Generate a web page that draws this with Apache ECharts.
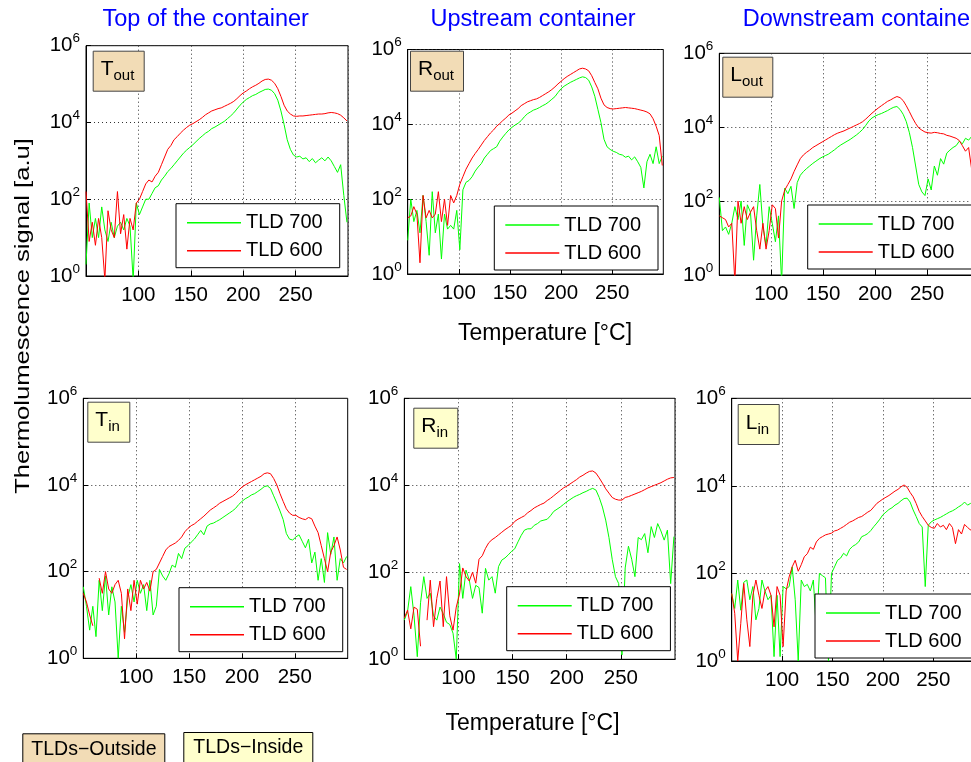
<!DOCTYPE html>
<html>
<head>
<meta charset="utf-8">
<title>TLD glow curves</title>
<script src="https://cdn.jsdelivr.net/npm/echarts/dist/echarts.min.js"></script>
<style>
  html, body { margin: 0; padding: 0; background: #fff; }
  #chart { width: 971px; height: 762px; }
</style>
</head>
<body>
<div id="chart"></div>
<script>
// temperature samples [degC]
const temps = [50,53,56,59,62,65,68,71,74,77,80,83,86,89,92,95,98,101,104,107,
  110,113,116,119,122,125,128,131,134,137,140,143,146,149,152,155,158,161,164,167,
  170,173,176,179,182,185,188,191,194,197,200,203,206,209,212,215,218,221,224,227,
  230,233,236,239,242,245,248,251,254,257,260,263,266,269,272,275,278,281,284,287,
  290,293,296,299];

// signal in decades (log10 of a.u.)
const tOut700 = [0.3,1.9,1.0,1.5,1.0,1.8,1.2,0.9,1.4,1.0, 1.3,1.4,1.2,1.5,1.3,-0.1,1.9,1.6,1.8,2.0,
  2.0,2.15,2.3,2.35,2.5,2.6,2.72,2.8,2.9,3.0, 3.1,3.2,3.28,3.35,3.42,3.5,3.58,3.65,3.72,3.77,
  3.84,3.88,3.93,3.98,4.03,4.1,4.17,4.25,4.35,4.45, 4.53,4.6,4.65,4.7,4.73,4.78,4.82,4.86,4.87,4.84,
  4.75,4.58,4.3,3.95,3.55,3.3,3.15,3.1,3.12,3.05, 3.08,2.98,3.06,2.95,3.02,3.08,3.0,3.1,3.0,2.85,
  2.7,2.9,2.1,1.4];
const tOut600 = [2.2,0.9,1.4,0.8,1.5,1.0,-0.1,1.7,1.2,1.0, 2.2,1.1,1.6,0.7,1.5,1.2,1.9,2.0,2.2,2.4,
  2.5,2.45,2.6,2.7,2.9,3.1,3.3,3.4,3.55,3.63, 3.72,3.8,3.87,3.93,3.97,4.02,4.07,4.13,4.2,4.25,
  4.3,4.33,4.36,4.38,4.42,4.46,4.5,4.55,4.62,4.7, 4.77,4.82,4.88,4.93,4.97,5.02,5.08,5.12,5.13,5.1,
  5.02,4.88,4.68,4.45,4.3,4.22,4.17,4.16,4.17,4.17, 4.18,4.19,4.2,4.21,4.22,4.22,4.23,4.25,4.26,4.25,
  4.23,4.19,4.12,4.04];

const rOut700 = [0.9,2.0,1.4,1.7,1.1,2.1,1.4,0.5,2.2,1.1, 1.6,0.4,1.6,1.2,1.3,1.2,1.7,0.65,2.25,2.45,
  2.5,2.6,2.75,2.86,2.95,3.1,3.2,3.3,3.35,3.4, 3.55,3.66,3.76,3.85,3.92,3.98,4.03,4.1,4.2,4.28,
  4.33,4.38,4.41,4.45,4.5,4.54,4.6,4.67,4.74,4.85, 4.95,5.02,5.07,5.12,5.16,5.2,5.24,5.27,5.25,5.18,
  5.0,4.75,4.4,4.05,3.6,3.4,3.33,3.28,3.25,3.2, 3.18,3.12,3.15,3.05,3.13,3.0,2.85,2.3,3.0,3.2,
  2.95,3.4,2.95,3.15];
const rOut600 = [1.5,1.55,1.8,1.6,0.3,2.1,1.5,1.7,1.5,1.6, 2.2,1.4,2.0,1.3,2.1,1.9,2.1,2.4,2.6,2.8,
  2.95,3.1,3.22,3.33,3.45,3.57,3.67,3.77,3.85,3.95, 4.02,4.1,4.17,4.25,4.3,4.36,4.42,4.5,4.55,4.6,
  4.63,4.66,4.68,4.72,4.77,4.82,4.87,4.93,5.0,5.08, 5.15,5.22,5.28,5.33,5.38,5.43,5.48,5.5,5.48,5.43,
  5.3,5.12,4.95,4.7,4.52,4.45,4.42,4.41,4.42,4.43, 4.44,4.45,4.44,4.43,4.42,4.4,4.38,4.36,4.33,4.28,
  4.15,3.95,3.7,2.9];

const lOut700 = [2.1,1.2,1.3,1.1,1.4,1.85,1.5,2.0,0.8,1.9, 1.7,0.4,1.6,2.45,1.3,0.8,1.85,1.4,0.9,1.6,
  -0.2,2.35,2.2,2.4,1.8,2.5,2.7,2.8,2.88,2.95, 3.02,3.08,3.14,3.19,3.23,3.27,3.33,3.39,3.46,3.52,
  3.57,3.62,3.67,3.73,3.79,3.86,3.94,4.05,4.17,4.25, 4.3,4.34,4.37,4.41,4.45,4.5,4.54,4.56,4.48,4.35,
  4.15,3.85,3.45,2.95,2.45,2.25,2.15,2.6,2.3,2.95, 2.7,3.15,3.0,3.3,3.38,3.45,3.5,3.62,3.55,3.7,
  3.65,3.75,3.7,3.78];
const lOut600 = [1.6,1.55,1.5,1.3,1.4,-0.2,2.0,1.4,1.85,1.5, 1.7,1.85,1.2,0.7,1.4,0.7,1.2,1.9,1.8,1.0,
  2.0,2.3,2.45,2.6,2.8,2.98,3.15,3.25,3.32,3.38, 3.45,3.5,3.55,3.6,3.65,3.7,3.75,3.8,3.84,3.87,
  3.9,3.94,3.98,4.02,4.06,4.1,4.15,4.22,4.3,4.38, 4.45,4.52,4.58,4.64,4.7,4.74,4.79,4.83,4.8,4.72,
  4.58,4.42,4.25,4.1,3.98,3.92,3.87,3.85,3.84,3.86, 3.85,3.83,3.82,3.78,3.76,3.73,3.7,3.64,3.5,3.35,
  3.45,2.85,2.5,2.2];

const tIn700 = [1.65,1.2,0.65,1.2,0.5,1.8,1.1,1.9,1.0,1.65, 1.3,0.0,1.2,0.6,1.4,1.7,1.3,1.8,1.5,1.7,
  1.1,1.8,1.0,1.2,2.05,1.9,1.8,1.95,2.15,2.1, 2.42,2.3,2.54,2.6,2.68,2.75,2.85,2.95,2.85,3.05,
  3.1,3.12,3.16,3.2,3.25,3.3,3.35,3.4,3.46,3.55, 3.62,3.68,3.72,3.77,3.8,3.85,3.9,3.96,3.98,3.92,
  3.75,3.58,3.4,3.2,2.88,2.75,2.73,2.8,2.85,2.7, 2.55,2.75,2.2,2.45,1.8,2.3,1.75,2.9,2.4,2.8,
  1.8,2.3,2.2,2.35];
const tIn600 = [1.5,1.3,1.0,0.75,null,1.85,1.5,2.0,1.6,1.5, 1.7,1.8,1.5,0.45,1.6,1.1,1.8,1.25,1.8,1.6,
  1.75,1.55,2.0,2.05,2.2,2.35,2.5,2.58,2.62,2.66, 2.72,2.8,2.92,3.0,3.06,3.1,3.16,3.22,3.28,3.35,
  3.42,3.47,3.52,3.58,3.62,3.66,3.7,3.74,3.8,3.88, 3.95,4.0,4.04,4.08,4.12,4.16,4.2,4.26,4.28,4.26,
  4.15,4.0,3.8,3.62,3.45,3.35,3.3,3.3,3.25,3.22, 3.2,3.25,3.22,3.05,2.9,2.6,2.3,2.0,2.45,2.6,
  2.8,2.5,2.1,2.05];

const rIn700 = [0.9,1.1,1.67,1.0,0.06,1.3,1.9,1.4,1.52,1.0, 0.9,1.2,1.05,0.85,0.8,0.6,0.0,2.2,1.4,2.05,
  1.82,1.4,1.7,1.65,1.06,2.09,1.82,1.9,1.52,2.13, 2.28,2.33,2.4,2.48,2.54,2.7,2.85,2.97,3.0,3.0,
  3.08,3.12,3.18,3.2,3.22,3.3,3.4,3.45,3.5,3.56, 3.62,3.67,3.72,3.76,3.79,3.83,3.86,3.9,3.93,3.89,
  3.72,3.5,3.2,2.8,2.3,1.9,1.74,0.1,2.1,2.6, 2.3,1.9,2.8,2.75,2.89,2.45,3.05,2.8,3.12,2.95,
  2.74,2.97,1.74,2.82];
const rIn600 = [0.95,1.13,0.7,1.2,1.15,0.3,null,0.9,1.82,0.75, 1.4,1.8,0.75,1.9,1.0,0.67,1.2,1.5,2.1,1.9,
  1.8,2.0,1.75,2.3,2.38,2.55,2.68,2.75,2.8,2.86, 2.92,2.98,3.03,3.08,3.17,3.22,3.26,3.3,3.37,3.42,
  3.48,3.52,3.56,3.59,3.65,3.7,3.76,3.82,3.88,3.94, 3.98,4.03,4.08,4.13,4.19,4.23,4.28,4.32,4.33,4.28,
  4.17,4.05,3.92,3.82,3.72,3.68,3.66,3.66,3.72,3.74, 3.77,3.8,3.83,3.86,3.9,3.94,3.97,4.0,4.03,4.06,
  4.1,4.14,4.17,4.18];

const lIn700 = [1.54,1.2,1.85,1.16,1.8,1.85,1.4,1.7,0.94,1.2, 1.85,1.6,1.4,1.5,0.1,1.5,0.1,1.7,1.65,1.7,
  2.15,1.4,0.0,1.85,1.7,1.75,1.6,1.85,0.7,2.0, 1.95,1.9,0.0,2.0,2.15,2.3,2.35,2.46,2.4,2.55,
  2.62,2.66,2.72,2.84,2.87,2.91,2.98,3.07,3.15,3.24, 3.34,3.4,3.46,3.5,3.56,3.6,3.66,3.71,3.72,3.63,
  3.45,3.3,3.14,3.06,1.7,3.1,3.18,3.22,3.25,3.28, 3.32,3.36,3.4,3.43,3.47,3.52,3.56,3.63,3.56,3.6,
  3.62,3.65,3.6,3.62];
const lIn600 = [1.54,1.09,0.0,0.86,1.77,0.94,0.33,1.5,1.85,1.5, 1.2,1.6,1.7,1.5,0.78,1.7,1.5,0.33,1.6,1.92,
  2.15,2.3,2.05,2.2,2.38,2.45,2.6,2.55,2.72,2.8, 2.84,2.88,2.9,2.92,2.97,2.99,3.03,3.07,3.12,3.17,
  3.2,3.24,3.28,3.3,3.35,3.4,3.44,3.52,3.6,3.65, 3.7,3.74,3.78,3.83,3.88,3.92,3.98,4.02,3.97,3.85,
  3.75,3.6,3.42,3.3,3.2,3.1,3.05,3.03,3.14,3.06, 3.1,3.0,3.14,3.05,2.68,3.0,2.9,3.12,3.05,2.99,
  3.1,2.95,3.05,3.0];

const seriesNames = ['TLD 700', 'TLD 600'];
const columnTitles = ['Top of the container', 'Upstream container', 'Downstream container'];
const boxTags = [['T', 'out'], ['R', 'out'], ['L', 'out'], ['T', 'in'], ['R', 'in'], ['L', 'in']];
const panelData = [[tOut700, tOut600], [rOut700, rOut600], [lOut700, lOut600],
                   [tIn700, tIn600], [rIn700, rIn600], [lIn700, lIn600]];

// pixel layout of each panel: plot box, legend box, tag box
const panels = [
  { grid: [86, 45.7, 262, 230.3],     legend: [176, 203.7, 17],   tag: [92.7, 50.7] },
  { grid: [407.7, 49.5, 255.6, 224.5], legend: [494.3, 206, 17],  tag: [410, 50.7] },
  { grid: [719.3, 53.3, 259.7, 221.7], legend: [807.7, 205, 30],  tag: [722.3, 56.7] },
  { grid: [83.3, 398.3, 264.4, 260],  legend: [179, 587.7, 17],   tag: [87.3, 401.7] },
  { grid: [404.3, 398.3, 270.7, 261], legend: [506.7, 586.7, 17], tag: [413.3, 407.7] },
  { grid: [731.7, 398.3, 252, 262.7], legend: [815, 594, 30],     tag: [737.7, 404] }
];

const FONT = 'Liberation Sans, Arial, Helvetica, sans-serif';
const GREEN = '#00ff00';
const RED = '#ff0000';
const OUTSIDE_FILL = '#f2dcb6';
const INSIDE_FILL = '#ffffcc';

const grids = [], xAxes = [], yAxes = [], series = [], legends = [], titles = [];

panels.forEach((p, i) => {
  grids.push({
    left: p.grid[0], top: p.grid[1], width: p.grid[2], height: p.grid[3],
    show: true, borderColor: '#000', borderWidth: 1, backgroundColor: '#fff',
    containLabel: false, outerBoundsMode: 'none'
  });
  xAxes.push({
    type: 'value', gridIndex: i, min: 50, max: 300, interval: 50,
    axisLine: { show: true, onZero: false, lineStyle: { color: '#000', width: 1 } },
    axisTick: { show: true, inside: true, length: 5, lineStyle: { color: '#000' } },
    axisLabel: { show: true, showMinLabel: false, showMaxLabel: false, margin: 9,
      fontSize: 20.5, color: '#000', fontFamily: FONT },
    splitLine: { show: true, lineStyle: { color: '#333', type: [1, 3], width: 1 } }
  });
  yAxes.push({
    type: 'value', gridIndex: i, min: 0, max: 6, interval: 2,
    axisLine: { show: true, onZero: false, lineStyle: { color: '#000', width: 1 } },
    axisTick: { show: true, inside: true, length: 5, lineStyle: { color: '#000' } },
    axisLabel: {
      margin: 6, color: '#000', fontFamily: FONT,
      formatter: v => '{b|10}{s|' + v + '}',
      rich: {
        b: { fontSize: 20.5, lineHeight: 28, fontFamily: FONT, color: '#000' },
        s: { fontSize: 13.5, lineHeight: 13, verticalAlign: 'top', fontFamily: FONT, color: '#000' }
      }
    },
    splitLine: { show: true, lineStyle: { color: '#333', type: [1, 3], width: 1 } }
  });
  [GREEN, RED].forEach((c, k) => {
    series.push({
      name: seriesNames[k], type: 'line', xAxisIndex: i, yAxisIndex: i,
      data: temps.map((t, j) => [t, panelData[i][k][j] === null ? '-' : panelData[i][k][j]]),
      showSymbol: false, symbol: 'none', color: c,
      lineStyle: { color: c, width: 1 }, clip: true, animation: false
    });
  });
  legends.push({
    left: p.legend[0], top: p.legend[1], orient: 'vertical', data: seriesNames,
    icon: 'rect', itemWidth: 54, itemHeight: 1.5, itemGap: 8,
    padding: [9, p.legend[2], 7, 11],
    borderColor: '#000', borderWidth: 1, borderRadius: 0, backgroundColor: '#fff',
    selectedMode: false,
    textStyle: { fontSize: 20, color: '#000', fontFamily: FONT, lineHeight: 20 }
  });
  titles.push({
    left: p.tag[0], top: p.tag[1] - 3,
    text: '{m|' + boxTags[i][0] + '}{s|' + boxTags[i][1] + '}',
    padding: [8, 10, 8, 8],
    backgroundColor: i < 3 ? OUTSIDE_FILL : INSIDE_FILL,
    borderColor: '#444', borderWidth: 1,
    textStyle: {
      fontWeight: 'normal', fontFamily: FONT,
      rich: {
        m: { fontSize: 21, lineHeight: 28, color: '#000', fontFamily: FONT },
        s: { fontSize: 15, lineHeight: 12, verticalAlign: 'bottom', color: '#000', fontFamily: FONT }
      }
    }
  });
});

// TLDs-Outside / TLDs-Inside keys at the bottom
titles.push({
  left: 22.3, top: 733.3, text: 'TLDs\u2212Outside', padding: [6, 9, 12, 9],
  backgroundColor: OUTSIDE_FILL, borderColor: '#000', borderWidth: 1,
  textStyle: { fontSize: 19.5, fontWeight: 'normal', color: '#000', fontFamily: FONT }
});
titles.push({
  left: 183.3, top: 732, text: 'TLDs\u2212Inside', padding: [6, 10, 12, 10],
  backgroundColor: INSIDE_FILL, borderColor: '#000', borderWidth: 1,
  textStyle: { fontSize: 19.5, fontWeight: 'normal', color: '#000', fontFamily: FONT }
});

function label(text, x, y, opts) {
  return Object.assign({
    type: 'text', x: x, y: y, silent: true,
    style: Object.assign({
      text: text, fill: '#000', fontSize: 23, fontFamily: FONT,
      align: 'center', textAlign: 'center', verticalAlign: 'middle', textVerticalAlign: 'middle'
    }, opts.style || {})
  }, opts.el || {});
}

const graphics = [
  label(columnTitles[0], 205.7, 20, { style: { fill: '#0000ff', fontSize: 23.5 } }),
  label(columnTitles[1], 533, 20, { style: { fill: '#0000ff', fontSize: 23.5 } }),
  label(columnTitles[2], 742.7, 20, { style: { fill: '#0000ff', fontSize: 23.5, align: 'left', textAlign: 'left' } }),
  label('Temperature [\u00b0C]', 545, 334, {}),
  label('Temperature [\u00b0C]', 532.5, 724, {}),
  label('Thermolumescence signal [a.u]', 23, 316, {
    style: { fontSize: 20 },
    el: { rotation: Math.PI / 2, scaleX: 1.28, scaleY: 1 }
  })
];

const chart = echarts.init(document.getElementById('chart'), null, { renderer: 'canvas' });
chart.setOption({
  backgroundColor: '#fff',
  animation: false,
  grid: grids,
  xAxis: xAxes,
  yAxis: yAxes,
  legend: legends,
  title: titles,
  graphic: graphics,
  series: series
});
</script>
</body>
</html>
